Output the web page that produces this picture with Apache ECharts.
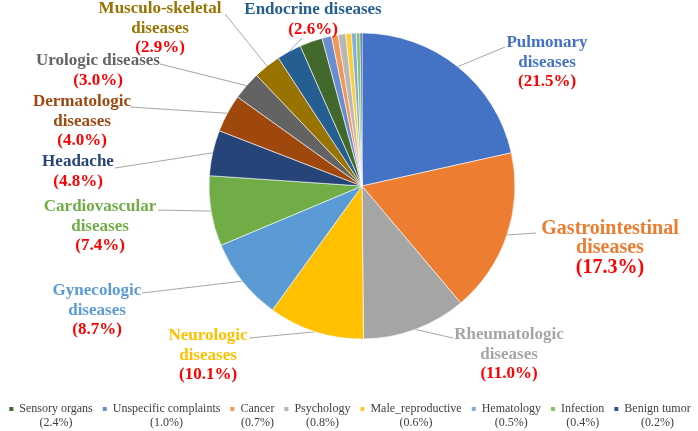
<!DOCTYPE html>
<html>
<head>
<meta charset="utf-8">
<script src="https://cdn.jsdelivr.net/npm/echarts@6/dist/echarts.min.js"></script>
<style>html,body{margin:0;padding:0;background:#fff}#c{width:698px;height:431px}</style>
</head>
<body>
<div id="c"></div>
<script>
const categories = ['Pulmonary diseases','Gastrointestinal diseases','Rheumatologic diseases','Neurologic diseases','Gynecologic diseases','Cardiovascular diseases','Headache','Dermatologic diseases','Urologic diseases','Musculo-skeletal diseases','Endocrine diseases','Sensory organs','Unspecific complaints','Cancer','Psychology','Male_reproductive','Hematology','Infection','Benign tumor'];
const values = [21.5,17.3,11.0,10.1,8.7,7.4,4.8,4.0,3.0,2.9,2.6,2.4,1.0,0.7,0.8,0.6,0.5,0.4,0.2];
const labelTexts = ['Pulmonary\ndiseases','Gastrointestinal\ndiseases','Rheumatologic\ndiseases','Neurologic\ndiseases','Gynecologic\ndiseases','Cardiovascular\ndiseases','Headache','Dermatologic\ndiseases','Urologic diseases','Musculo-skeletal\ndiseases','Endocrine diseases'];
const legendCategories = ['Sensory organs','Unspecific complaints','Cancer','Psychology','Male_reproductive','Hematology','Infection','Benign tumor'];
const colors = ['#4472C4','#ED7D31','#A5A5A5','#FFC000','#5B9BD5','#70AD47','#264478','#9E480E','#636363','#997300','#255E91','#43682B','#698ED0','#F1975A','#B7B7B7','#FFCD33','#7CAFDD','#8CC168','#2F5597'];
// label layout (style): block top-centre, font size, leader-line end at the label
const labelPos = [[547,33],[610,219],[509,325],[208,326],[97,281],[100,197],[78,152],[82,92],[98,51],[160,-1],[313,0]];
const labelFontSizes = [17,20,17,17,17,17,17,17,17,17,17];
const labelLineEnds = [[505,47],[536,233],[453,338],[249,338],[142,293],[158,210],[115,168],[130,107],[160,64],[225,14],[302,38]];

const FONT = '"Liberation Serif", "Times New Roman", serif';
const data = categories.map((n,i)=>{
  const show = i < labelTexts.length;
  const fs = labelFontSizes[i] || 17;
  return {
    name:n, value:values[i],
    itemStyle:{color:colors[i]},
    label:{show: show, color: colors[i],
      rich:{
        n:{fontFamily:FONT, fontWeight:'bold', fontSize:fs, lineHeight:19.5, align:'center'},
        p:{fontFamily:FONT, fontWeight:'bold', fontSize:fs, lineHeight:19.5, color:'#FF0000', align:'center'}
      }},
    labelLine:{show: show}
  };
});

const chart = echarts.init(document.getElementById('c'), null, {renderer:'canvas'});
chart.setOption({
  animation:false,
  backgroundColor:'#fff',
  textStyle:{fontFamily:FONT},
  legend:{
    data: legendCategories,
    left:'center', top:403, padding:0,
    itemWidth:6, itemHeight:6, itemGap:8,
    icon:'rect',
    formatter: function(name){
      const v = values[categories.indexOf(name)];
      return '{a|' + name + '}\n{a|(' + v.toFixed(1) + '%)}';
    },
    textStyle:{
      color:'#404040', fontFamily:FONT, fontSize:12, padding:[14,0,0,0],
      rich:{a:{align:'center', fontFamily:FONT, fontSize:12, color:'#404040', lineHeight:14}}
    }
  },
  series:[{
    type:'pie',
    center:[362,186],
    radius:[0,153],
    startAngle:90,
    clockwise:true,
    avoidLabelOverlap:false,
    itemStyle:{borderColor:'#fff', borderWidth:0.6},
    label:{
      fontFamily:FONT, fontWeight:'bold', fontSize:17, lineHeight:19.5,
      formatter: function(p){
        const t = labelTexts[p.dataIndex];
        if(!t) return '';
        return '{n|' + t.split('\n').join('}\n{n|') + '}\n{p|(' + p.value.toFixed(1) + '%)}';
      }
    },
    labelLine:{lineStyle:{color:'#A6A6A6', width:1}, length:10, length2:10},
    labelLayout:function(params){
      const i = params.dataIndex;
      const p = labelPos[i];
      if(!p) return {};
      const out = {x:p[0], y:p[1], align:'center', verticalAlign:'top'};
      if(params.labelLinePoints && params.labelLinePoints.length){
        out.labelLinePoints = [params.labelLinePoints[0], labelLineEnds[i]];
      }
      return out;
    },
    data:data
  }]
});
</script>
</body>
</html>
